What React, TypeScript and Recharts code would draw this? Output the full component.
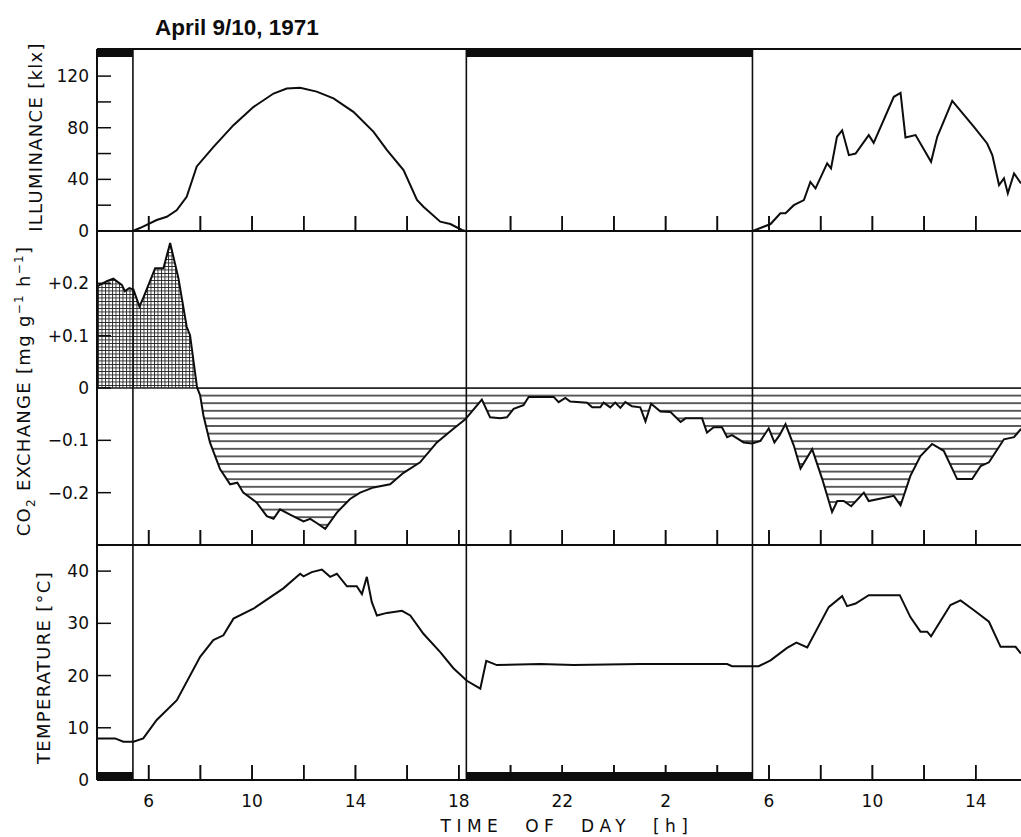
import React from 'react';
import { ComposedChart, Line, Area, Scatter, XAxis, YAxis, ReferenceLine, ReferenceArea } from 'recharts';

// ---------- data (time in continuous hours from midnight of April 9) ----------
const TITLE = 'April 9/10, 1971';
const X_DOMAIN: [number, number] = [4, 39.75];
const TIME_TICKS = [6, 8, 10, 12, 14, 16, 18, 20, 22, 24, 26, 28, 30, 32, 34, 36, 38];
const TIME_LABEL_TICKS = [6, 10, 14, 18, 22, 26, 30, 34, 38];
const SUN_EVENTS = [5.39, 18.29, 29.36]; // sunrise, sunset, sunrise
const NIGHTS: [number, number][] = [[4, 5.39], [18.29, 29.36]];

const ILLUM_DOMAIN: [number, number] = [0, 141];
const ILLUM_TICKS = [0, 20, 40, 60, 80, 100, 120];
const ILLUM_LABELS = [0, 40, 80, 120];

const CO2_DOMAIN: [number, number] = [-0.3, 0.3];
const CO2_TICKS = [-0.2, -0.1, 0, 0.1, 0.2];

const TEMP_DOMAIN: [number, number] = [0, 45];
const TEMP_TICKS = [0, 10, 20, 30, 40];

const illumDay1: [number, number][] = [
  [5.39, 0], [5.66, 2.3], [6.31, 8.5], [6.7, 11], [7.08, 16], [7.47, 26.5], [7.86, 50], [8.5, 65],
  [9.28, 82], [10.05, 96], [10.83, 106.5], [11.34, 110.4], [11.86, 111], [12.5, 108], [13.15, 102.7],
  [13.92, 92.3], [14.7, 76.8], [15.22, 62.7], [15.86, 47.2], [16.38, 24], [16.63, 18.8], [17.28, 7.2],
  [17.67, 5.4], [18.12, 0.8], [18.25, 0],
];
const illumDay2: [number, number][] = [
  [29.37, 0], [30.06, 5.4], [30.44, 13.7], [30.64, 13.7], [30.96, 20], [31.35, 24], [31.6, 38], [31.8, 33],
  [32.25, 52.4], [32.4, 48.5], [32.63, 73], [32.83, 78], [33.09, 58.8], [33.35, 60], [33.86, 74.3],
  [34.05, 68.3], [34.83, 104], [35.09, 107], [35.28, 72.5], [35.67, 74.3], [36.27, 53.6], [36.51, 73],
  [37.09, 100.8], [37.93, 80.7], [38.44, 67.8], [38.64, 58.8], [38.9, 35.6], [39.09, 40.8], [39.24, 29.2],
  [39.48, 44.6], [39.75, 36.9],
];

const co2Uptake: [number, number][] = [
  [4.0, 0.194], [4.38, 0.204], [4.63, 0.209], [4.96, 0.197], [5.08, 0.185], [5.25, 0.191], [5.41, 0.188],
  [5.64, 0.156], [5.79, 0.172], [6.25, 0.229], [6.57, 0.229], [6.83, 0.277], [7.15, 0.21], [7.47, 0.117],
  [7.6, 0.101], [7.86, 0.005], [7.88, 0],
];
const co2Release: [number, number][] = [
  [7.88, 0], [7.99, -0.014], [8.12, -0.053], [8.37, -0.104], [8.76, -0.155], [9.15, -0.184], [9.43, -0.181],
  [9.66, -0.2], [10.18, -0.219], [10.57, -0.245], [10.83, -0.25], [11.08, -0.232], [11.47, -0.242],
  [11.99, -0.255], [12.25, -0.25], [12.5, -0.258], [12.83, -0.269], [13.28, -0.238], [13.79, -0.212],
  [14.18, -0.2], [14.7, -0.19], [15.34, -0.184], [15.86, -0.162], [16.5, -0.142], [17.15, -0.104],
  [17.79, -0.078], [18.25, -0.06], [18.89, -0.022], [19.21, -0.056], [19.6, -0.058], [19.86, -0.056],
  [20.12, -0.04], [20.5, -0.033], [20.7, -0.017], [21.67, -0.017], [21.86, -0.027], [22.12, -0.019],
  [22.31, -0.026], [22.96, -0.028], [23.16, -0.037], [23.47, -0.037], [23.6, -0.028], [23.86, -0.037],
  [24.05, -0.028], [24.25, -0.038], [24.44, -0.027], [24.7, -0.035], [25.02, -0.037], [25.22, -0.064],
  [25.44, -0.03], [25.8, -0.045], [26.19, -0.046], [26.58, -0.065], [26.77, -0.058], [27.41, -0.058],
  [27.6, -0.085], [27.86, -0.075], [28.18, -0.075], [28.38, -0.094], [28.57, -0.09], [29.02, -0.104],
  [29.35, -0.106], [29.67, -0.101], [29.99, -0.077], [30.21, -0.104], [30.41, -0.09], [30.64, -0.069],
  [30.96, -0.11], [31.22, -0.154], [31.67, -0.117], [32.06, -0.174], [32.44, -0.237], [32.64, -0.216],
  [32.89, -0.216], [33.18, -0.226], [33.67, -0.2], [33.86, -0.216], [34.83, -0.206], [35.09, -0.224],
  [35.47, -0.168], [35.86, -0.13], [36.31, -0.107], [36.76, -0.12], [37.28, -0.174], [37.86, -0.174],
  [38.19, -0.149], [38.51, -0.142], [39.09, -0.098], [39.48, -0.094], [39.75, -0.078],
];

const temperature: [number, number][] = [
  [4.0, 7.97], [4.7, 7.97], [5.02, 7.33], [5.41, 7.33], [5.79, 7.97], [6.31, 11.5], [7.09, 15.3],
  [7.99, 23.6], [8.5, 26.8], [8.89, 27.7], [9.28, 30.9], [10.05, 32.8], [11.21, 36.7], [11.86, 39.5],
  [11.99, 39.0], [12.31, 39.8], [12.7, 40.3], [13.02, 38.9], [13.28, 39.5], [13.67, 37.1], [14.05, 37.1],
  [14.25, 35.6], [14.44, 38.9], [14.63, 34.1], [14.83, 31.5], [15.22, 32.0], [15.8, 32.4], [16.12, 31.5],
  [16.63, 28.0], [17.28, 24.5], [17.79, 21.4], [18.31, 19.0], [18.83, 17.5], [19.06, 22.8], [19.47, 22.0],
  [21.15, 22.2], [22.44, 22.0], [25.02, 22.2], [28.38, 22.2], [28.57, 21.8], [29.6, 21.8], [30.06, 22.9],
  [30.7, 25.3], [31.06, 26.3], [31.48, 25.4], [32.31, 33.1], [32.83, 35.2], [33.02, 33.3], [33.35, 33.8],
  [33.86, 35.4], [35.06, 35.4], [35.47, 31.2], [35.86, 28.4], [36.12, 28.4], [36.27, 27.5], [37.02, 33.5],
  [37.41, 34.4], [37.93, 32.5], [38.51, 30.3], [38.96, 25.5], [39.54, 25.5], [39.75, 24.2],
];

// ---------- layout ----------
const W = 1021;
const H = 837;
const INK = '#0d0d0d';
const FONT = 'DejaVu Sans';
const AXIS_W = 97; // plot left edge
const X_AXIS_H = 1;
const X_TICK_LEN = 15;
const X_LABEL_DROP = 27;
const PANEL_TOPS = [49, 231, 545];
const PANEL_BOTTOMS = [231, 545, 780];

// ---------- helpers ----------
const toRows = (pairs: [number, number][]) => pairs.map(([t, v]) => ({ t, v }));
const co2All = [...co2Uptake, ...co2Release.slice(1)];
const tickRows = (yMin: number) => TIME_TICKS.map((t) => ({ t, v: yMin }));

const tickMarkDot = (p: any) => {
  const cx = Number(p.cx);
  const cy = Number(p.cy);
  if (!isFinite(cx) || !isFinite(cy)) return <g />;
  return <line x1={cx} x2={cx} y1={cy} y2={cy - X_TICK_LEN} stroke={INK} strokeWidth={1.6} />;
};

const tickMarks = (yMin: number) => (
  <Scatter data={tickRows(yMin)} dataKey="v" shape={tickMarkDot} isAnimationActive={false} legendType="none" />
);

const makeXTick = (showLabels: boolean) => (props: any) => {
  const x = Number(props.x);
  const y = Number(props.y);
  const v = props.payload.value;
  if (!showLabels || !TIME_LABEL_TICKS.includes(v)) return <g />;
  return (
    <text x={x} y={y} textAnchor="middle" fontSize={17} fontFamily={FONT} fill={INK}>
      {String(v % 24)}
    </text>
  );
};

const makeYTick = (fmt: (v: number) => string | null) => (props: any) => {
  const { x, y, payload } = props;
  const label = fmt(payload.value);
  return (
    <g>
      <line x1={x} x2={x + 14} y1={y} y2={y} stroke={INK} strokeWidth={1.5} />
      {label !== null ? (
        <text x={x - 8} y={y} dy="0.36em" textAnchor="end" fontSize={17} fontFamily={FONT} fill={INK}>
          {label}
        </text>
      ) : null}
    </g>
  );
};

const illumFmt = (v: number) => (ILLUM_LABELS.includes(v) ? String(v) : null);
const co2Fmt = (v: number) => (Math.abs(v) < 1e-9 ? '0' : v > 0 ? '+' + v.toFixed(1) : '\u2212' + Math.abs(v).toFixed(1));
const tempFmt = (v: number) => String(v);

const vTitle = (baseX: number, dyCenter: number, content: React.ReactNode) => (props: any) => {
  const vb = props.viewBox || {};
  const cy = (vb.y ?? 0) + (vb.height ?? 0) / 2 + dyCenter;
  return (
    <text x={baseX} y={cy} transform={`rotate(-90 ${baseX} ${cy})`} textAnchor="middle" fontSize={18}
      letterSpacing={1.3} fontFamily={FONT} fill={INK}>
      {content}
    </text>
  );
};

const co2TitleContent = (
  <>
    <tspan>CO</tspan>
    <tspan dy={5} fontSize={12}>2</tspan>
    <tspan dy={-5}> EXCHANGE [mg g</tspan>
    <tspan dy={-7} fontSize={12}>{'\u22121'}</tspan>
    <tspan dy={7}> h</tspan>
    <tspan dy={-7} fontSize={12}>{'\u22121'}</tspan>
    <tspan dy={7}>]</tspan>
  </>
);

const nightBar = (atTop: boolean) => (props: any) => {
  const { x, y, width, height } = props;
  return <rect x={x} y={atTop ? y : y + height - 8} width={width} height={8} fill={INK} />;
};

const commonX = (showLabels: boolean, label?: any) => (
  <XAxis type="number" dataKey="t" domain={X_DOMAIN} allowDataOverflow ticks={TIME_TICKS} interval={0}
    tickSize={0} tickMargin={X_LABEL_DROP} tickLine={false} tick={makeXTick(showLabels)}
    axisLine={{ stroke: INK, strokeWidth: 2 }} height={X_AXIS_H} label={label} />
);

const sunLines = () =>
  SUN_EVENTS.map((s) => <ReferenceLine key={'s' + s} x={s} stroke={INK} strokeWidth={1.6} />);

const xTitle = (props: any) => {
  const vb = props.viewBox || {};
  const cx = (vb.x ?? 0) + (vb.width ?? 0) / 2 + 8;
  const y = (vb.y ?? 0) + 52;
  return (
    <text x={cx} y={y} textAnchor="middle" fontSize={17} letterSpacing={5.5} fontFamily={FONT} fill={INK}>
      {'TIME\u00a0\u00a0OF\u00a0\u00a0DAY\u00a0\u00a0[h]'}
    </text>
  );
};

// same linear mapping as the time axis (domain X_DOMAIN over the plot width), used for the inward tick overlay
const timeToPx = (t: number) => AXIS_W + ((t - X_DOMAIN[0]) / (X_DOMAIN[1] - X_DOMAIN[0])) * (W - AXIS_W);

export default function App() {
  const pos = { position: 'absolute' as const, left: 0, top: 0 };
  return (
    <div style={{ position: 'absolute', left: 0, top: 0, width: W, height: H, overflow: 'hidden', background: '#fff' }}>
      <svg width={0} height={0} style={{ position: 'absolute' }}>
        <defs>
          <pattern id="crossHatch" patternUnits="userSpaceOnUse" width={3.5} height={3.5}>
            <path d="M0 0.5H3.5M0.5 0V3.5" stroke="#222" strokeWidth={0.9} fill="none" />
          </pattern>
          <pattern id="lineHatch" patternUnits="userSpaceOnUse" x={0} y={4.2} width={20} height={7.6}>
            <line x1={0} x2={20} y1={3.8} y2={3.8} stroke="#1a1a1a" strokeWidth={1.4} />
          </pattern>
        </defs>
      </svg>

      <svg width={W} height={45} style={pos}>
        <text x={155} y={35} fontSize={22.5} fontWeight="bold" fontFamily="Liberation Sans" fill={INK}>
          {TITLE}
        </text>
      </svg>

      {/* Illuminance */}
      <div style={pos}>
        <ComposedChart width={W} height={H} margin={{ top: PANEL_TOPS[0], right: 0, bottom: H - PANEL_BOTTOMS[0] - X_AXIS_H, left: 0 }}>
          {commonX(false)}
          <YAxis type="number" domain={ILLUM_DOMAIN} allowDataOverflow ticks={ILLUM_TICKS} interval={0} width={AXIS_W}
            tickSize={0} tickMargin={0} tickLine={false} tick={makeYTick(illumFmt)}
            axisLine={{ stroke: INK, strokeWidth: 2 }} label={vTitle(42, -3, 'ILLUMINANCE [klx]')} />
          <ReferenceLine y={ILLUM_DOMAIN[1]} stroke={INK} strokeWidth={2} />
          {NIGHTS.map(([a, b]) => (
            <ReferenceArea key={'n' + a} x1={a} x2={b} shape={nightBar(true)} />
          ))}
          {sunLines()}
          <Line data={toRows(illumDay1)} dataKey="v" type="linear" dot={false} stroke={INK} strokeWidth={2} isAnimationActive={false} />
          <Line data={toRows(illumDay2)} dataKey="v" type="linear" dot={false} stroke={INK} strokeWidth={2} isAnimationActive={false} />
          {tickMarks(ILLUM_DOMAIN[0])}
        </ComposedChart>
      </div>

      {/* CO2 exchange */}
      <div style={pos}>
        <ComposedChart width={W} height={H} margin={{ top: PANEL_TOPS[1], right: 0, bottom: H - PANEL_BOTTOMS[1] - X_AXIS_H, left: 0 }}>
          {commonX(false)}
          <YAxis type="number" domain={CO2_DOMAIN} allowDataOverflow ticks={CO2_TICKS} interval={0} width={AXIS_W}
            tickSize={0} tickMargin={0} tickLine={false} tick={makeYTick(co2Fmt)}
            axisLine={{ stroke: INK, strokeWidth: 2 }} label={vTitle(30, 3, co2TitleContent)} />
          <Area data={toRows(co2Uptake)} dataKey="v" type="linear" baseValue={0} stroke="none" fill="url(#crossHatch)" fillOpacity={1} isAnimationActive={false} />
          <Area data={toRows(co2Release)} dataKey="v" type="linear" baseValue={0} stroke="none" fill="url(#lineHatch)" fillOpacity={1} isAnimationActive={false} />
          <ReferenceLine y={0} stroke="#1a1a1a" strokeWidth={1.3} />
          {sunLines()}
          <Line data={toRows(co2All)} dataKey="v" type="linear" dot={false} stroke={INK} strokeWidth={2} isAnimationActive={false} />
          {tickMarks(CO2_DOMAIN[0])}
        </ComposedChart>
      </div>

      {/* Temperature */}
      <div style={pos}>
        <ComposedChart width={W} height={H} margin={{ top: PANEL_TOPS[2], right: 0, bottom: H - PANEL_BOTTOMS[2] - X_AXIS_H, left: 0 }}>
          {commonX(true, xTitle)}
          <YAxis type="number" domain={TEMP_DOMAIN} allowDataOverflow ticks={TEMP_TICKS} interval={0} width={AXIS_W}
            tickSize={0} tickMargin={0} tickLine={false} tick={makeYTick(tempFmt)}
            axisLine={{ stroke: INK, strokeWidth: 2 }} label={vTitle(50, 5, 'TEMPERATURE [\u00b0C]')} />
          {NIGHTS.map(([a, b]) => (
            <ReferenceArea key={'m' + a} x1={a} x2={b} shape={nightBar(false)} />
          ))}
          {sunLines()}
          <Line data={toRows(temperature)} dataKey="v" type="linear" dot={false} stroke={INK} strokeWidth={2} isAnimationActive={false} />
          {tickMarks(TEMP_DOMAIN[0])}
        </ComposedChart>
      </div>

      {/* inward time-tick marks overlay (axis decoration) */}
      <svg width={W} height={H} style={{ ...pos, pointerEvents: 'none' }}>
        {PANEL_BOTTOMS.map((yb) =>
          TIME_TICKS.map((t) => (
            <line key={yb + '-' + t} x1={timeToPx(t)} x2={timeToPx(t)} y1={yb} y2={yb - X_TICK_LEN} stroke={INK} strokeWidth={1.6} />
          ))
        )}
      </svg>
    </div>
  );
}
